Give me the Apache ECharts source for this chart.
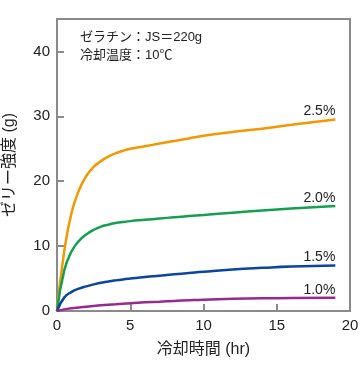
<!DOCTYPE html>
<html><head><meta charset="utf-8">
<script src="https://cdn.jsdelivr.net/npm/echarts@6/dist/echarts.min.js"></script>
<style>html,body{margin:0;padding:0;background:#fff}#c{width:360px;height:365px}</style>
</head><body><div id="c"></div>
<script>
const seriesNames = ['2.5%', '2.0%', '1.5%', '1.0%'];
const colors = ['#F39800', '#14A050', '#0A46A0', '#962A8E'];
const times = [0, 0.5, 1, 1.5, 2, 2.5, 3, 3.5, 4, 4.5, 5, 6, 7, 8, 9, 10, 12, 14, 16, 19];
const vals25 = [0, 9.3, 15.2, 18.6, 20.8, 22.2, 23.1, 23.8, 24.3, 24.7, 25.0, 25.4, 25.8, 26.2, 26.6, 27.0, 27.6, 28.1, 28.7, 29.5];
const vals20 = [0, 6.3, 9.2, 10.8, 11.8, 12.5, 13.0, 13.3, 13.55, 13.72, 13.85, 14.05, 14.25, 14.45, 14.63, 14.8, 15.15, 15.5, 15.8, 16.2];
const vals15 = [0, 2.1, 2.95, 3.45, 3.8, 4.1, 4.35, 4.55, 4.72, 4.87, 5.0, 5.25, 5.45, 5.65, 5.85, 6.05, 6.4, 6.65, 6.85, 7.0];
const vals10 = [0, 0.25, 0.42, 0.55, 0.67, 0.78, 0.87, 0.96, 1.04, 1.12, 1.2, 1.33, 1.44, 1.55, 1.65, 1.74, 1.87, 1.95, 2.0, 2.05];
const xTicks = [0, 5, 10, 15, 20];
const yTicks = [0, 10, 20, 30, 40];
const noteLines = ['ゼラチン：JS＝220g', '冷却温度：10℃'];
const xName = '冷却時間 (hr)';
const yName = 'ゼリー強度 (g)';

const allVals = [vals25, vals20, vals15, vals10];
const FONT = '"Liberation Sans", "Noto Sans CJK JP", sans-serif';

const chart = echarts.init(document.getElementById('c'), null, {renderer: 'canvas'});
chart.setOption({
  animation: false,
  backgroundColor: '#fff',
  grid: {left: 57, right: 10, top: 19, bottom: 54, show: true, borderColor: '#8a8a8a', borderWidth: 2,
    containLabel: false, outerBoundsMode: 'none'},
  xAxis: {
    type: 'value', min: 0, max: 20, interval: 5,
    name: xName, nameLocation: 'middle', nameGap: 31,
    nameTextStyle: {fontFamily: FONT, fontSize: 16, color: '#222'},
    axisLine: {lineStyle: {color: '#8a8a8a', width: 2}},
    axisTick: {inside: true, length: 7, lineStyle: {color: '#8a8a8a', width: 2}},
    axisLabel: {fontFamily: FONT, fontSize: 15, color: '#222', margin: 7,
      formatter: v => xTicks.includes(v) ? String(v) : ''},
    splitLine: {show: false}
  },
  yAxis: {
    type: 'value', min: 0, max: 45, interval: 10,
    name: yName, nameLocation: 'middle', nameGap: 39, nameRotate: 90,
    nameTextStyle: {fontFamily: FONT, fontSize: 16, color: '#222'},
    axisLine: {lineStyle: {color: '#8a8a8a', width: 2}},
    axisTick: {inside: true, length: 7, lineStyle: {color: '#8a8a8a', width: 2}},
    axisLabel: {fontFamily: FONT, fontSize: 15, color: '#222', margin: 7,
      formatter: v => yTicks.includes(v) ? String(v) : ''},
    splitLine: {show: false}
  },
  graphic: noteLines.map((t, i) => ({
    type: 'text', left: 80, top: 31 + i * 18,
    style: {text: t, font: '13px ' + FONT, fill: '#222'}
  })),
  series: seriesNames.map((n, i) => ({
    name: n, type: 'line', smooth: 0.5, symbol: 'none',
    lineStyle: {color: colors[i], width: 2.5},
    data: times.map((t, k) => [t, allVals[i][k]]),
    endLabel: {show: true, formatter: n, align: 'right', verticalAlign: 'bottom',
      offset: [-8, -1], fontFamily: FONT, fontSize: 14, color: '#222'}
  }))
});
</script></body></html>
